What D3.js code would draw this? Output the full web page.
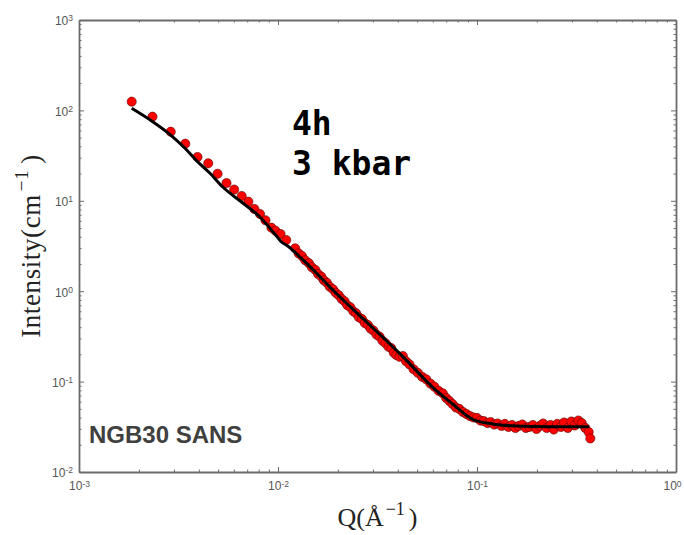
<!DOCTYPE html>
<html>
<head>
<meta charset="utf-8">
<script src="https://cdn.jsdelivr.net/npm/d3@7"></script>
<style>
  html, body { margin: 0; padding: 0; background: #fff; }
  svg { display: block; }
</style>
</head>
<body>
<div id="chart"></div>
<script>
// Measured SANS intensity, Q in 1/Å, I in 1/cm
const dataQ = [
  0.00184, 0.00234, 0.00289, 0.00342, 0.00394, 0.00446, 0.00497, 0.00551, 0.00602, 0.00657,
  0.00710, 0.00761, 0.00812, 0.00865, 0.00927, 0.00971, 0.0103, 0.0110,
  0.0122, 0.0127, 0.0132, 0.0137, 0.0143, 0.0148, 0.0154, 0.0159, 0.0165, 0.0170,
  0.0176, 0.0182, 0.0189, 0.0195, 0.0202, 0.0209, 0.0216, 0.0223, 0.0231, 0.0239,
  0.0247, 0.0255, 0.0264, 0.0273, 0.0283, 0.0292, 0.0302, 0.0313, 0.0324, 0.0335,
  0.0347, 0.0359, 0.0371, 0.0382, 0.0393, 0.0408, 0.0424, 0.0440, 0.0458, 0.0480,
  0.0504, 0.0530, 0.0556, 0.0583, 0.0611, 0.0641, 0.0673, 0.0700, 0.0727,
  0.0753, 0.0784, 0.0816, 0.0850, 0.0885, 0.0921, 0.0959, 0.0999, 0.104, 0.108,
  0.113, 0.117, 0.122, 0.127, 0.133, 0.138, 0.144, 0.150, 0.156, 0.162,
  0.169, 0.176, 0.183, 0.191, 0.199, 0.207, 0.215, 0.224, 0.234, 0.243,
  0.253, 0.264, 0.274, 0.286, 0.298, 0.310, 0.323, 0.336, 0.350, 0.364, 0.371
];
const dataI = [
  125, 85.2, 58.1, 42.8, 30.5, 26.0, 19.9, 15.7, 13.3, 11.3,
  9.77, 8.12, 7.14, 6.09, 5.04, 4.67, 4.29, 3.68,
  2.98, 2.62, 2.45, 2.20, 2.04, 1.84, 1.72, 1.55, 1.45, 1.32,
  1.24, 1.12, 1.05, 0.96, 0.901, 0.82, 0.773, 0.70, 0.664, 0.60,
  0.569, 0.515, 0.493, 0.445, 0.423, 0.385, 0.366, 0.330, 0.314, 0.283,
  0.265, 0.243, 0.234, 0.208, 0.197, 0.188, 0.192, 0.168, 0.155, 0.137,
  0.125, 0.113, 0.106, 0.095, 0.0878, 0.079, 0.0742, 0.066, 0.0610,
  0.0565, 0.0517, 0.0498, 0.0461, 0.0438, 0.0416, 0.0401, 0.0396, 0.0371, 0.0366,
  0.0348, 0.0357, 0.0335, 0.0344, 0.0323, 0.0340, 0.0315, 0.0331, 0.0307, 0.0323,
  0.0335, 0.0307, 0.0315, 0.0331, 0.0299, 0.0323, 0.0344, 0.0307, 0.0331, 0.0295,
  0.0340, 0.0315, 0.0353, 0.0307, 0.0362, 0.0327, 0.0371, 0.0348, 0.0307, 0.0277, 0.0235
];

// Model fit curve
const fitQ = [0.00184, 0.00232, 0.00289, 0.00340, 0.00394, 0.00454, 0.00528, 0.00665, 0.00809,
  0.00982, 0.0104, 0.0110, 0.0134, 0.0196, 0.0289, 0.0424, 0.0599, 0.0755, 0.0952,
  0.120, 0.157, 0.231, 0.366];
const fitI = [105.5, 76.3, 53.4, 38.4, 27.1, 20.3, 14.2, 9.46, 6.67,
  4.08, 3.50, 3.24, 2.21, 0.948, 0.423, 0.189, 0.0865, 0.0565, 0.0383,
  0.0340, 0.0323, 0.0317, 0.0317];

// Axis decades (exponents) for tick labels
const xTickExp = [-3, -2, -1, 0];
const yTickExp = [-2, -1, 0, 1, 2, 3];

const annotLines = ["4h", "3 kbar"];
const sampleLabel = "NGB30 SANS";

const W = 684, H = 535;
const margin = { left: 79, right: 8, top: 20, bottom: 63 };

const svg = d3.select("#chart").append("svg")
  .attr("width", W).attr("height", H);

const x = d3.scaleLog().domain([1e-3, 1]).range([margin.left, W - margin.right]);
const y = d3.scaleLog().domain([1e-2, 1e3]).range([H - margin.bottom, margin.top]);

const minorsOf = exps => {
  const out = [];
  for (let i = 0; i < exps.length - 1; i++)
    for (let k = 2; k <= 9; k++) out.push(k * Math.pow(10, exps[i]));
  return out;
};
const xMajor = xTickExp.map(e => Math.pow(10, e));
const yMajor = yTickExp.map(e => Math.pow(10, e));
const xMinor = minorsOf(xTickExp);
const yMinor = minorsOf(yTickExp);

const axisColor = "#6b6b6b";
const labelColor = "#555";

function styleAxis(g) {
  g.selectAll("path.domain").attr("stroke", axisColor).attr("stroke-width", 1.8);
  g.selectAll(".tick line").attr("stroke", axisColor).attr("stroke-width", 1);
}
function supLabels(g, exps) {
  g.selectAll(".tick text").each(function (d, i) {
    const t = d3.select(this);
    t.text(null).attr("fill", labelColor)
      .style("font-family", "'Liberation Sans', Arial, sans-serif")
      .style("font-size", "12px");
    t.append("tspan").text("10");
    t.append("tspan").attr("dy", "-0.45em").style("font-size", "8.5px")
      .text(String(exps[i]));
  });
}

const x0 = x.range()[0], x1 = x.range()[1];
const y0 = y.range()[0], y1 = y.range()[1];

// bottom axis
const gB = svg.append("g").attr("transform", `translate(0,${y0})`);
gB.call(d3.axisBottom(x).tickValues(xMajor).tickSize(-5).tickSizeOuter(0).tickPadding(7));
supLabels(gB, xTickExp);
gB.selectAll(".tick text").attr("dy", "0.95em");
// keep the last decade label inside the page
gB.selectAll(".tick text").filter((d, i, n) => i === n.length - 1).attr("dx", -4);
const gBm = svg.append("g").attr("transform", `translate(0,${y0})`);
gBm.call(d3.axisBottom(x).tickValues(xMinor).tickSize(-2.5).tickSizeOuter(0).tickFormat(""));
gBm.select("path.domain").remove();

// top axis
const gT = svg.append("g").attr("transform", `translate(0,${y1})`);
gT.call(d3.axisTop(x).tickValues(xMajor).tickSize(-5).tickSizeOuter(0).tickFormat(""));
const gTm = svg.append("g").attr("transform", `translate(0,${y1})`);
gTm.call(d3.axisTop(x).tickValues(xMinor).tickSize(-2.5).tickSizeOuter(0).tickFormat(""));
gTm.select("path.domain").remove();

// left axis
const gL = svg.append("g").attr("transform", `translate(${x0},0)`);
gL.call(d3.axisLeft(y).tickValues(yMajor).tickSize(-5).tickSizeOuter(0).tickPadding(6));
supLabels(gL, yTickExp);
gL.selectAll(".tick text").attr("dy", "0.4em");
const gLm = svg.append("g").attr("transform", `translate(${x0},0)`);
gLm.call(d3.axisLeft(y).tickValues(yMinor).tickSize(-2.5).tickSizeOuter(0).tickFormat(""));
gLm.select("path.domain").remove();

// right axis
const gR = svg.append("g").attr("transform", `translate(${x1},0)`);
gR.call(d3.axisRight(y).tickValues(yMajor).tickSize(-5).tickSizeOuter(0).tickFormat(""));
const gRm = svg.append("g").attr("transform", `translate(${x1},0)`);
gRm.call(d3.axisRight(y).tickValues(yMinor).tickSize(-2.5).tickSizeOuter(0).tickFormat(""));
gRm.select("path.domain").remove();

[gB, gBm, gT, gTm, gL, gLm, gR, gRm].forEach(styleAxis);

// measured points
const pts = dataQ.map((q, i) => ({ q, I: dataI[i] }));
svg.append("g").selectAll("circle").data(pts).join("circle")
  .attr("cx", d => x(d.q)).attr("cy", d => y(d.I)).attr("r", 4.6)
  .attr("fill", "#ff0000").attr("stroke", "#5a0000").attr("stroke-width", 0.6);

// fit curve
const fit = fitQ.map((q, i) => ({ q, I: fitI[i] }));
svg.append("path").datum(fit)
  .attr("fill", "none").attr("stroke", "#000").attr("stroke-width", 3)
  .attr("stroke-linejoin", "round").attr("stroke-linecap", "butt")
  .attr("d", d3.line().x(d => x(d.q)).y(d => y(d.I)).curve(d3.curveMonotoneX));

// annotation
const ann = svg.append("text")
  .attr("x", 292).attr("y", 135)
  .style("font-family", "'DejaVu Sans Mono', monospace")
  .style("font-weight", "bold").style("font-size", "33px").attr("fill", "#000");
annotLines.forEach((s, i) => {
  ann.append("tspan").attr("x", 292).attr("dy", i === 0 ? 0 : 40).attr("xml:space", "preserve").text(s);
});

svg.append("text")
  .attr("x", 89).attr("y", 443)
  .style("font-family", "'Liberation Sans', Arial, sans-serif")
  .style("font-weight", "bold").style("font-size", "24px")
  .attr("fill", "#404040").text(sampleLabel);

// axis titles
const serif = "'Liberation Serif', 'Times New Roman', serif";
const xt = svg.append("text")
  .attr("x", (x0 + x1) / 2).attr("y", 526)
  .attr("text-anchor", "middle")
  .style("font-family", serif).style("font-size", "26px").attr("fill", "#222");
xt.append("tspan").text("Q(Å");
xt.append("tspan").attr("dy", -11).attr("dx", 2).style("font-size", "18px").text("−1");
xt.append("tspan").attr("dy", 11).attr("dx", 4).text(")");

const yt = svg.append("text")
  .attr("transform", `translate(40,${(y0 + y1) / 2}) rotate(-90)`)
  .attr("text-anchor", "middle")
  .style("font-family", serif).style("font-size", "27px")
  .style("letter-spacing", "0.6px").attr("fill", "#222");
yt.append("tspan").text("Intensity(cm");
yt.append("tspan").attr("dy", -12).attr("dx", 3).style("font-size", "19px").text("−1");
yt.append("tspan").attr("dy", 12).attr("dx", 6).text(")");
</script>
</body>
</html>
